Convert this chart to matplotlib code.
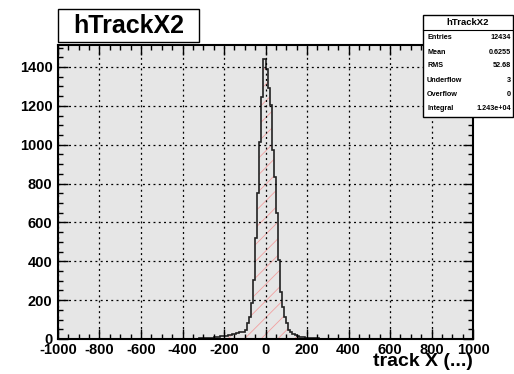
import numpy as np
import matplotlib
matplotlib.use("Agg")
import matplotlib.pyplot as plt
from matplotlib.patches import Rectangle

# histogram: 200 bins of width 10 from -1000 to 1000, non-zero part starts at -360
bin_lo, bin_hi, bin_w = -1000, 1000, 10
first_edge = -360
counts = [1, 1, 2, 2, 3, 3, 4, 5, 5, 6, 7, 9, 10, 12, 13, 15, 17, 18, 20, 22,
          24, 26, 30, 38, 34, 36, 45, 81, 113, 185, 303, 519, 751, 1013, 1243,
          1441, 1389, 1293, 1205, 973, 834, 648, 406, 243, 165, 114, 81, 45, 35,
          28, 20, 15, 12, 10, 8, 7, 6, 5, 4, 4, 3, 3, 2, 2, 2, 1, 1, 2, 1, 1, 1]

xticks = [-1000, -800, -600, -400, -200, 0, 200, 400, 600, 800, 1000]
yticks = [0, 200, 400, 600, 800, 1000, 1200, 1400]

stat_names = ["Entries", "Mean", "RMS", "Underflow", "Overflow", "Integral"]
stat_vals = ["12434", "0.6255", "52.68", "3", "0", "1.243e+04"]
hist_name = "hTrackX2"
xlabel = "track X (...)"

edges = np.arange(bin_lo, bin_hi + bin_w, bin_w)
vals = np.zeros(len(edges) - 1)
i0 = (first_edge - bin_lo) // bin_w
vals[i0:i0 + len(counts)] = counts

plt.rcParams["font.family"] = ["Liberation Sans", "DejaVu Sans"]
plt.rcParams["font.weight"] = "bold"
plt.rcParams["axes.unicode_minus"] = False
plt.rcParams["hatch.linewidth"] = 0.6
plt.rcParams["lines.scale_dashes"] = False

W, H = 514, 374
fig = plt.figure(figsize=(W / 100, H / 100), dpi=100)
ax = fig.add_axes([58 / W, 1 - 339 / H, (473 - 58) / W, (339 - 45) / H])
ax.set_facecolor("#e6e6e6")

ax.stairs(vals, edges, fill=True, facecolor="none", edgecolor="#f2a0a0",
          hatch="//", linewidth=0)
ax.stairs(vals, edges, color="#222222", linewidth=1.2)

ax.set_xlim(bin_lo, bin_hi)
ax.set_ylim(0, vals.max() * 1.05)
ax.set_xticks(xticks)
ax.set_yticks(yticks)
ax.set_xticks(np.arange(-1000, 1001, 50), minor=True)
ax.set_yticks(np.arange(0, 1501, 50), minor=True)
ax.tick_params(which="both", direction="in", top=True, right=True,
               labelsize=10.5, width=1)
ax.tick_params(axis="x", pad=3)
ax.tick_params(axis="y", pad=4)
ax.tick_params(which="major", length=7)
ax.tick_params(which="minor", length=3.5)
ax.grid(True, which="major", color="black", linewidth=0.9,
        linestyle=(0, (1.4, 2.4)))
ax.set_axisbelow(False)
for s in ax.spines.values():
    s.set_linewidth(1.5)

fig.text(473 / W, 1 - 362 / H, xlabel, ha="right", va="center",
         fontsize=14, fontweight="bold")

# title box
fig.add_artist(Rectangle((58 / W, 1 - 42 / H), (199 - 58) / W, (42 - 9) / H,
                         transform=fig.transFigure, facecolor="white",
                         edgecolor="black", linewidth=1))
fig.text(128.5 / W, 1 - 26 / H, hist_name, ha="center", va="center",
         fontsize=18, fontweight="heavy")

# stats box
fig.add_artist(Rectangle((423 / W, 1 - 117 / H), (513 - 423) / W, (117 - 15) / H,
                         transform=fig.transFigure, facecolor="white",
                         edgecolor="black", linewidth=1))
fig.add_artist(plt.Line2D([423 / W, 513 / W], [1 - 30 / H, 1 - 30 / H],
                          transform=fig.transFigure, color="black", linewidth=0.8))
fig.text(468 / W, 1 - 22.5 / H, hist_name, ha="center", va="center",
         fontsize=6.8, fontweight="bold")
rows_y = [37.7, 52.3, 65.3, 80, 94.3, 108.3]
for name, v, y in zip(stat_names, stat_vals, rows_y):
    fig.text(427 / W, 1 - y / H, name, ha="left", va="center", fontsize=5.2,
             fontweight="bold")
    fig.text(511 / W, 1 - y / H, v, ha="right", va="center", fontsize=5.2,
             fontweight="bold")

fig.savefig("out.png", dpi=100, facecolor="white")
